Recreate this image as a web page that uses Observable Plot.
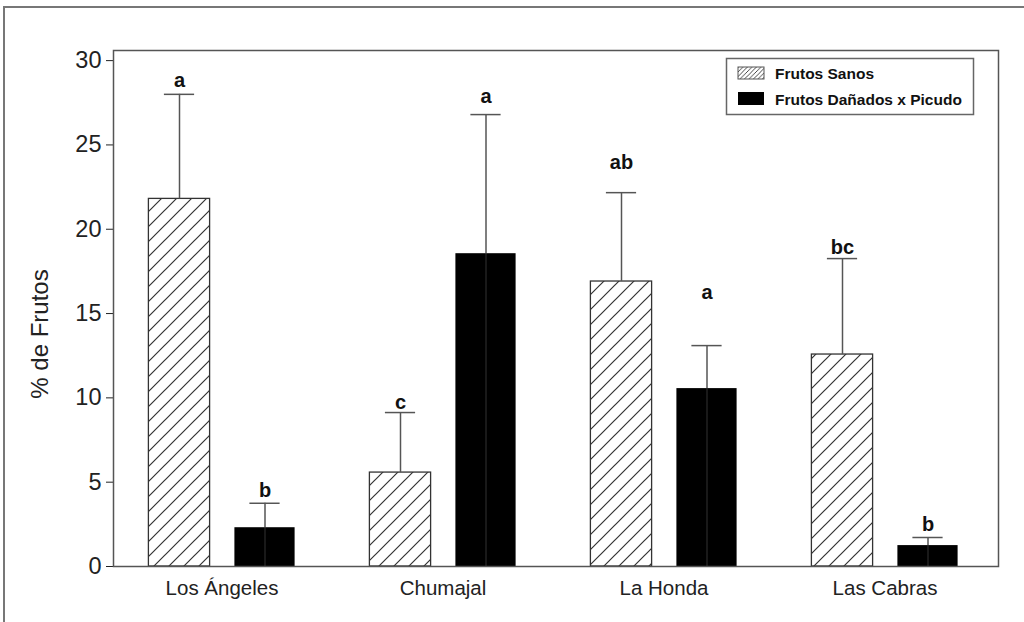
<!DOCTYPE html>
<html>
<head>
<meta charset="utf-8">
<script src="https://cdn.jsdelivr.net/npm/d3@7"></script>
<script src="https://cdn.jsdelivr.net/npm/@observablehq/plot@0.6"></script>
<style>
  html, body { margin: 0; padding: 0; background: #fff; }
  #chart { position: absolute; left: 0; top: 0; width: 1024px; height: 622px; }
  #chart svg [aria-label^="x-axis"] text { font-size: 20.5px; }
  #chart svg [aria-label^="y-axis"] text { font-size: 23.5px; }
</style>
</head>
<body>
<div id="chart"></div>
<script>
// ---- data ----
const sites = ["Los Ángeles", "Chumajal", "La Honda", "Las Cabras"];
const seriesNames = ["Frutos Sanos", "Frutos Dañados x Picudo"];
const sanos = [21.8, 5.57, 16.9, 12.57];
const sanosTop = [28.0, 9.13, 22.17, 18.26];
const danados = [2.3, 18.55, 10.55, 1.24];
const danadosTop = [3.75, 26.8, 13.1, 1.72];
const sanosLetters = ["a", "c", "ab", "bc"];
const danadosLetters = ["b", "a", "a", "b"];
const sanosLetterY = [28.8, 9.72, 23.95, 18.9];
const danadosLetterY = [4.5, 27.86, 16.24, 2.49];
const yTicks = [0, 5, 10, 15, 20, 25, 30];
const yLabel = "% de Frutos";

const table = sites.map((s, i) => ({
  site: s,
  sanos: sanos[i], sanosTop: sanosTop[i], sanosLetter: sanosLetters[i], sanosLetterY: sanosLetterY[i],
  danados: danados[i], danadosTop: danadosTop[i], danadosLetter: danadosLetters[i], danadosLetterY: danadosLetterY[i]
}));

const band = 221.8;
const font = "'Liberation Sans', Arial, sans-serif";

const chart = Plot.plot({
  width: 1024,
  height: 622,
  marginLeft: 113,
  marginRight: 26,
  marginTop: 50,
  marginBottom: 56,
  style: { fontFamily: font, fontSize: "18px", color: "#222", background: "transparent" },
  x: { domain: sites, range: [109.6, 996.8], padding: 0, label: null, tickSize: 0, tickPadding: 14 },
  y: { domain: [0, 30.6], ticks: yTicks, tickSize: 7, tickPadding: 5, label: null },
  marks: [
    Plot.barY(table, { x: "site", y: "sanos", fill: "url(#hatch)", stroke: "#333", strokeWidth: 1.3, insetLeft: 37.4, insetRight: 122.4 }),
    Plot.barY(table, { x: "site", y: "danados", fill: "#000", insetLeft: 123.4, insetRight: 37.4 }),
    Plot.ruleX(table, { x: "site", y1: 0, y2: "danados", dx: 43, stroke: "#2b2b2b", strokeWidth: 1.2 }),
    Plot.ruleX(table, { x: "site", y1: "sanos", y2: "sanosTop", dx: -42.5, stroke: "#555", strokeWidth: 1.5 }),
    Plot.ruleX(table, { x: "site", y1: "danados", y2: "danadosTop", dx: 43, stroke: "#555", strokeWidth: 1.5 }),
    Plot.tickY(table, { x: "site", y: "sanosTop", stroke: "#555", strokeWidth: 1.5, insetLeft: 52.9, insetRight: band - 83.9 }),
    Plot.tickY(table, { x: "site", y: "danadosTop", stroke: "#555", strokeWidth: 1.5, insetLeft: 138.4, insetRight: band - 169.4 }),
    Plot.text(table, { x: "site", y: "sanosLetterY", text: "sanosLetter", dx: -42.5, fontWeight: "bold", fontSize: 20, fill: "#111" }),
    Plot.text(table, { x: "site", y: "danadosLetterY", text: "danadosLetter", dx: 43, fontWeight: "bold", fontSize: 20, fill: "#111" }),
    Plot.frame({ stroke: "#555", strokeWidth: 1.5 })
  ]
});

document.getElementById("chart").appendChild(chart);

const svg = d3.select(chart);
const defs = svg.insert("defs", ":first-child");
function hatch(id, s, w) {
  const p = defs.append("pattern").attr("id", id).attr("patternUnits", "userSpaceOnUse")
    .attr("width", s).attr("height", s);
  p.append("rect").attr("width", s).attr("height", s).attr("fill", "#fff");
  p.append("path")
    .attr("d", `M-1,1 L1,-1 M0,${s} L${s},0 M${s - 1},${s + 1} L${s + 1},${s - 1}`)
    .attr("stroke", "#333").attr("stroke-width", w);
}
hatch("hatch", 15, 1.2);
hatch("hatchSmall", 4.5, 0.9);

// outer page frame
svg.append("path").attr("d", "M4,622 L4,7 L1024,7").attr("fill", "none").attr("stroke", "#777").attr("stroke-width", 2);

// y-axis title
svg.append("text").attr("transform", "translate(42,334) rotate(-90)")
  .attr("text-anchor", "middle").attr("dominant-baseline", "middle")
  .attr("font-family", font).attr("font-size", 24).attr("fill", "#222").text(yLabel);

// legend
const lg = svg.append("g").attr("text-anchor", "start");
lg.append("rect").attr("x", 726.5).attr("y", 58.5).attr("width", 247).attr("height", 56)
  .attr("fill", "#fff").attr("stroke", "#666").attr("stroke-width", 1.5);
lg.append("rect").attr("x", 738).attr("y", 67).attr("width", 26).attr("height", 12)
  .attr("fill", "url(#hatchSmall)").attr("stroke", "#555").attr("stroke-width", 1);
lg.append("rect").attr("x", 738).attr("y", 92).attr("width", 26).attr("height", 13).attr("fill", "#000");
lg.selectAll("text.lab").data(seriesNames).join("text")
  .attr("x", 775).attr("y", (d, i) => 79 + i * 25.5)
  .attr("text-anchor", "start")
  .attr("font-family", font).attr("font-size", 15.5).attr("font-weight", "bold").attr("fill", "#111")
  .text(d => d);
</script>
</body>
</html>
